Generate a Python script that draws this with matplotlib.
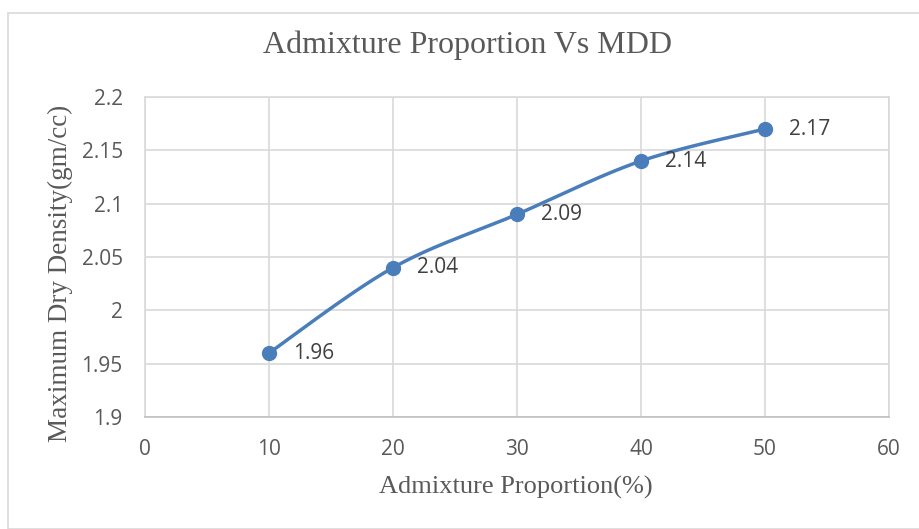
import numpy as np
import matplotlib.pyplot as plt

# data
proportion = [10, 20, 30, 40, 50]
mdd = [1.96, 2.04, 2.09, 2.14, 2.17]
x_ticks = [0, 10, 20, 30, 40, 50, 60]
y_ticks = [1.9, 1.95, 2.0, 2.05, 2.1, 2.15, 2.2]
y_tick_labels = ['1.9', '1.95', '2', '2.05', '2.1', '2.15', '2.2']

blue = '#4A7EBB'
gray = '#595959'


# Excel-like smoothed line (Bezier segments, Catmull-Rom control points)
def smooth_curve(xs, ys, n=40):
    xs = np.asarray(xs, float)
    ys = np.asarray(ys, float)
    px = np.concatenate([[xs[0]], xs, [xs[-1]]])
    py = np.concatenate([[ys[0]], ys, [ys[-1]]])
    out_x, out_y = [], []
    t = np.linspace(0, 1, n)
    for i in range(1, len(px) - 2):
        p0 = np.array([px[i], py[i]])
        p3 = np.array([px[i + 1], py[i + 1]])
        c1 = p0 + (np.array([px[i + 1], py[i + 1]]) - np.array([px[i - 1], py[i - 1]])) / 6
        c2 = p3 - (np.array([px[i + 2], py[i + 2]]) - np.array([px[i], py[i]])) / 6
        b = ((1 - t) ** 3)[:, None] * p0 + (3 * (1 - t) ** 2 * t)[:, None] * c1 \
            + (3 * (1 - t) * t ** 2)[:, None] * c2 + (t ** 3)[:, None] * p3
        out_x.extend(b[:, 0])
        out_y.extend(b[:, 1])
    return out_x, out_y


fig = plt.figure(figsize=(9.2, 5.29), dpi=100)
ax = fig.add_axes([145 / 920, 1 - 417 / 529, (889 - 145) / 920, (417 - 97) / 529])

# light border around the whole chart
fig.patches.append(plt.Rectangle((8 / 920, 0.0), 1 - 8 / 920, 1 - 13 / 529,
                                 transform=fig.transFigure, fill=False,
                                 edgecolor='#D9D9D9', linewidth=1.2))

sx, sy = smooth_curve(proportion, mdd)
ax.plot(sx, sy, color=blue, linewidth=2.5, zorder=3)
ax.plot(proportion, mdd, 'o', color=blue, markersize=10, zorder=4)

for x, y in zip(proportion, mdd):
    ax.annotate(f'{y:g}', (x, y), xytext=(17, 0), textcoords='offset points',
                ha='left', va='center', fontsize=15, color='#404040',
                family='Open Sans')

ax.set_xlim(0, 60)
ax.set_ylim(1.9, 2.2)
ax.set_xticks(x_ticks)
ax.set_yticks(y_ticks)
ax.set_yticklabels(y_tick_labels)
ax.grid(True, color='#D9D9D9', linewidth=1.2)
ax.set_axisbelow(True)
for s in ax.spines.values():
    s.set_color('#D9D9D9')
    s.set_linewidth(1.2)
ax.spines['bottom'].set_color('#BFBFBF')
ax.tick_params(length=0, labelsize=15, labelcolor=gray)
for lab in ax.get_xticklabels() + ax.get_yticklabels():
    lab.set_family('Open Sans')
ax.tick_params(axis='x', pad=16)
ax.tick_params(axis='y', pad=16)

fig.text(468 / 920, 1 - 45 / 529, 'Admixture Proportion Vs MDD',
         family='Liberation Serif', fontsize=23, color=gray,
         ha='center', va='center')
fig.text(516 / 920, 1 - 487 / 529, 'Admixture Proportion(%)',
         family='Liberation Serif', fontsize=19, color=gray,
         ha='center', va='center')
fig.text(60 / 920, 1 - 273 / 529, 'Maximum Dry Density(gm/cc)',
         family='Liberation Serif', fontsize=19.5, color=gray,
         ha='center', va='center', rotation=90)

fig.savefig('out.png', dpi=100)
